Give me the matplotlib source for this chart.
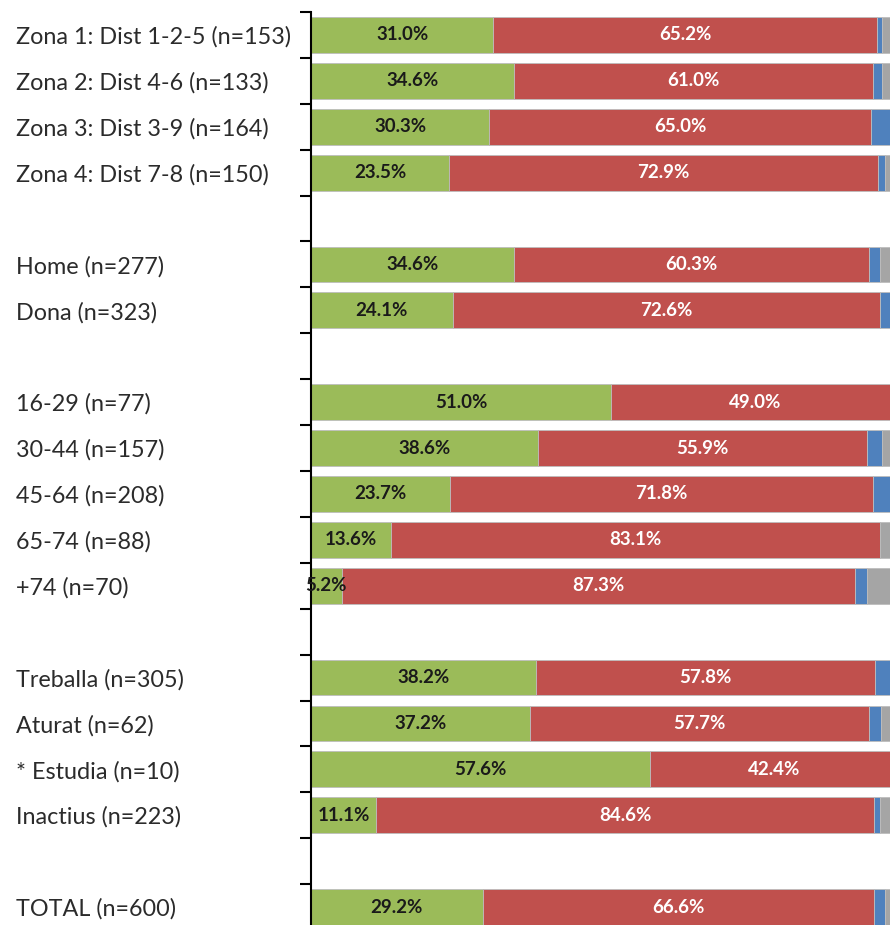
import matplotlib
matplotlib.use("Agg")
import matplotlib.pyplot as plt
import numpy as np

nan = np.nan

labels = [
    "Zona 1: Dist 1-2-5 (n=153)", "Zona 2: Dist 4-6 (n=133)",
    "Zona 3: Dist 3-9 (n=164)", "Zona 4: Dist 7-8 (n=150)", "",
    "Home (n=277)", "Dona (n=323)", "",
    "16-29 (n=77)", "30-44 (n=157)", "45-64 (n=208)", "65-74 (n=88)", "+74 (n=70)", "",
    "Treballa (n=305)", "Aturat (n=62)", "* Estudia (n=10)", "Inactius (n=223)", "",
    "TOTAL (n=600)",
]
green = [31.0, 34.6, 30.3, 23.5, nan, 34.6, 24.1, nan, 51.0, 38.6, 23.7, 13.6, 5.2, nan,
         38.2, 37.2, 57.6, 11.1, nan, 29.2]
red = [65.2, 61.0, 65.0, 72.9, nan, 60.3, 72.6, nan, 49.0, 55.9, 71.8, 83.1, 87.3, nan,
       57.8, 57.7, 42.4, 84.6, nan, 66.6]
blue = [0.9, 1.5, 4.7, 1.3, nan, 1.8, 3.3, nan, 0.0, 2.6, 4.5, 0.0, 2.0, nan,
        4.0, 2.0, 0.0, 1.1, nan, 1.8]
gray = [2.9, 2.9, 0.0, 2.3, nan, 3.3, 0.0, nan, 0.0, 2.9, 0.0, 3.3, 5.5, nan,
        0.0, 3.1, 0.0, 3.2, nan, 2.4]

COLORS = ["#9BBB59", "#C0504D", "#4F81BD", "#A5A5A5"]
TXT = ["#1a1a1a", "white", None, None]

plt.rcParams["font.family"] = ["Lato", "DejaVu Sans"]

W, H = 890, 925
fig = plt.figure(figsize=(W / 100, H / 100), dpi=100)
ax = fig.add_axes([311 / W, 1 - 930 / H, 588 / W, 918 / H])

y = np.arange(len(labels))
left = np.zeros(len(labels))
for vals, col, tcol in zip([green, red, blue, gray], COLORS, TXT):
    v = np.nan_to_num(np.array(vals, dtype=float))
    ax.barh(y, v, left=left, height=0.78, color=col, edgecolor="#bdbdbd", linewidth=0.6)
    if tcol is not None:
        for yi, (l, w) in enumerate(zip(left, v)):
            if w > 0:
                ax.text(l + w / 2, yi, f"{w:.1f}%", ha="center", va="center",
                        fontsize=13.5, fontweight="bold", color=tcol)
    left += v

ax.set_xlim(0, 100)
ax.set_ylim(len(labels) - 0.5, -0.5)
ax.set_xticks([])
for s in ["top", "right", "bottom"]:
    ax.spines[s].set_visible(False)
ax.spines["left"].set_linewidth(1.5)

ax.set_yticks(np.arange(len(labels) + 1) - 0.5)
ax.set_yticklabels([])
ax.tick_params(axis="y", which="major", length=8, width=1.5, color="black")
ax.set_yticks(y, minor=True)
ax.set_yticklabels(labels, minor=True, fontsize=16.8, color="#2b2b2b")
ax.tick_params(axis="y", which="minor", length=0, pad=295 / 1.389)
for t in ax.get_yticklabels(minor=True):
    t.set_horizontalalignment("left")

fig.savefig("out.png", dpi=100)
